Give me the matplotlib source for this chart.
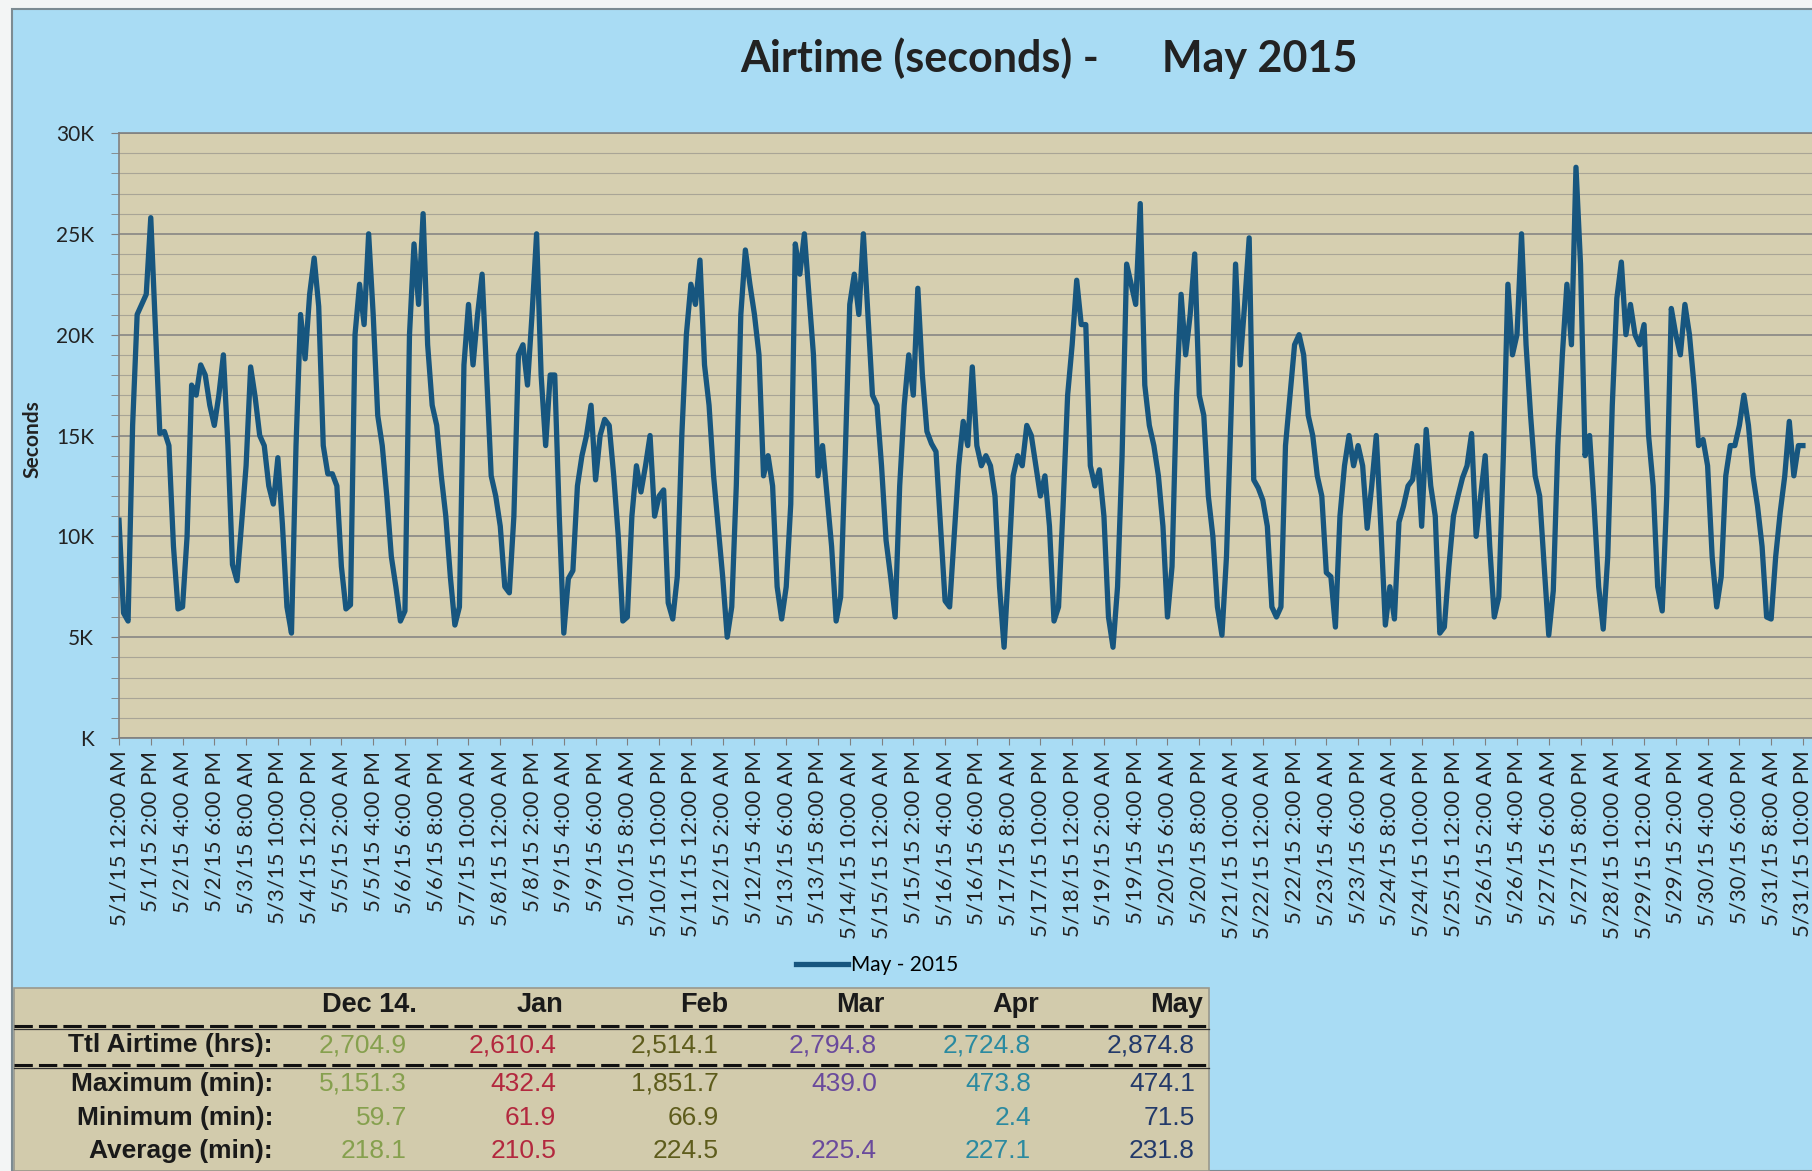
import numpy as np
import pandas as pd
import matplotlib
matplotlib.use("Agg")
import matplotlib.pyplot as plt
from matplotlib.lines import Line2D
from matplotlib.patches import Rectangle
from matplotlib.ticker import MultipleLocator

plt.rcParams['font.family'] = ['Lato', 'DejaVu Sans']

# ===== data: airtime every 2 hours (thousand seconds), one row per day 00:00..22:00 =====
airtime_k = [
    10.8, 6.2, 5.8, 15.5, 21.0, 21.5, 22.0, 25.8, 20.4, 15.1, 15.2, 14.5,   # 5/1
    9.5, 6.4, 6.5, 10.0, 17.5, 17.0, 18.5, 18.0, 16.5, 15.5, 17.0, 19.0,    # 5/2
    14.5, 8.6, 7.8, 10.6, 13.5, 18.4, 16.9, 15.0, 14.5, 12.5, 11.6, 13.9,   # 5/3
    10.6, 6.5, 5.2, 14.5, 21.0, 18.8, 22.0, 23.8, 21.4, 14.5, 13.1, 13.1,   # 5/4
    12.5, 8.5, 6.4, 6.6, 20.0, 22.5, 20.5, 25.0, 21.0, 16.0, 14.5, 12.0,    # 5/5
    9.0, 7.5, 5.8, 6.3, 20.0, 24.5, 21.5, 26.0, 19.5, 16.5, 15.5, 13.0,     # 5/6
    11.0, 8.0, 5.6, 6.5, 18.5, 21.5, 18.5, 21.0, 23.0, 18.0, 13.0, 12.0,    # 5/7
    10.5, 7.5, 7.2, 11.0, 19.0, 19.5, 17.5, 21.0, 25.0, 18.0, 14.5, 18.0,   # 5/8
    18.0, 11.0, 5.2, 7.9, 8.3, 12.5, 14.0, 15.0, 16.5, 12.8, 15.0, 15.8,    # 5/9
    15.5, 13.0, 10.0, 5.8, 6.0, 11.0, 13.5, 12.2, 13.5, 15.0, 11.0, 12.0,   # 5/10
    12.3, 6.7, 5.9, 8.0, 15.0, 20.0, 22.5, 21.5, 23.7, 18.5, 16.5, 13.0,    # 5/11
    10.5, 8.0, 5.0, 6.5, 12.5, 21.0, 24.2, 22.5, 21.0, 19.0, 13.0, 14.0,    # 5/12
    12.5, 7.5, 5.9, 7.5, 11.6, 24.5, 23.0, 25.0, 22.0, 19.0, 13.0, 14.5,    # 5/13
    12.0, 9.5, 5.8, 7.0, 14.0, 21.5, 23.0, 21.0, 25.0, 21.0, 17.0, 16.5,    # 5/14
    13.5, 9.8, 8.0, 6.0, 12.5, 16.5, 19.0, 17.0, 22.3, 18.0, 15.2, 14.6,    # 5/15
    14.2, 10.5, 6.8, 6.5, 10.0, 13.5, 15.7, 14.5, 18.4, 14.5, 13.5, 14.0,   # 5/16
    13.5, 12.0, 7.5, 4.5, 8.5, 13.0, 14.0, 13.5, 15.5, 15.0, 13.5, 12.0,    # 5/17
    13.0, 10.5, 5.8, 6.5, 11.5, 17.0, 19.5, 22.7, 20.5, 20.5, 13.5, 12.5,   # 5/18
    13.3, 11.0, 6.0, 4.5, 7.5, 14.0, 23.5, 22.5, 21.5, 26.5, 17.5, 15.5,    # 5/19
    14.5, 13.0, 10.5, 6.0, 8.5, 17.0, 22.0, 19.0, 21.0, 24.0, 17.0, 16.0,   # 5/20
    12.0, 10.0, 6.5, 5.1, 9.0, 16.0, 23.5, 18.5, 21.5, 24.8, 12.8, 12.4,    # 5/21
    11.8, 10.5, 6.5, 6.0, 6.5, 14.5, 17.0, 19.5, 20.0, 19.0, 16.0, 15.0,    # 5/22
    13.0, 12.0, 8.2, 8.0, 5.5, 11.0, 13.5, 15.0, 13.5, 14.5, 13.5, 10.4,    # 5/23
    12.5, 15.0, 10.5, 5.6, 7.5, 5.9, 10.7, 11.5, 12.5, 12.8, 14.5, 10.5,    # 5/24
    15.3, 12.5, 11.0, 5.2, 5.5, 8.5, 11.0, 12.0, 12.9, 13.5, 15.1, 10.0,    # 5/25
    12.0, 14.0, 9.5, 6.0, 7.0, 14.0, 22.5, 19.0, 20.0, 25.0, 19.5, 16.0,    # 5/26
    13.0, 12.0, 8.5, 5.1, 7.3, 14.5, 19.0, 22.5, 19.5, 28.3, 23.5, 14.0,    # 5/27
    15.0, 11.5, 7.5, 5.4, 9.0, 16.5, 21.8, 23.6, 20.0, 21.5, 20.0, 19.5,    # 5/28
    20.5, 15.0, 12.5, 7.5, 6.3, 12.0, 21.3, 20.0, 19.0, 21.5, 20.0, 17.5,   # 5/29
    14.5, 14.8, 13.5, 9.0, 6.5, 8.0, 13.0, 14.5, 14.5, 15.5, 17.0, 15.5,    # 5/30
    13.0, 11.5, 9.5, 6.0, 5.9, 9.0, 11.2, 13.0, 15.7, 13.0, 14.5, 14.5,     # 5/31
]
step_hours = 2
tick_every_hours = 14
y_ticks = [0, 5000, 10000, 15000, 20000, 25000, 30000]
y_tick_labels = ['K', '5K', '10K', '15K', '20K', '25K', '30K']

# summary table below the chart
table_months = ['Dec 14.', 'Jan', 'Feb', 'Mar', 'Apr', 'May']
table_colors = ['#86a04e', '#b3283e', '#5e5c1c', '#6a4a9c', '#2b8aa0', '#233a6a']
row_names = ['Ttl Airtime (hrs):', 'Maximum (min):', 'Minimum (min):', 'Average (min):']
total_hrs = [2704.9, 2610.4, 2514.1, 2794.8, 2724.8, 2874.8]
max_min = [5151.3, 432.4, 1851.7, 439.0, 473.8, 474.1]
min_min = [59.7, 61.9, 66.9, None, 2.4, 71.5]
avg_min = [218.1, 210.5, 224.5, 225.4, 227.1, 231.8]

W, H = 1812, 1171
def fx(x):
    return x / W
def fy(y):
    return 1 - y / H

def hour_label(h):
    t = pd.Timestamp('2015-05-01') + pd.Timedelta(hours=int(h))
    h12 = t.hour % 12 or 12
    ampm = 'AM' if t.hour < 12 else 'PM'
    return f"{t.month}/{t.day}/{t.strftime('%y')} {h12}:{t.minute:02d} {ampm}"

seconds = np.array(airtime_k) * 1000
hours = np.arange(len(seconds)) * step_hours

fig = plt.figure(figsize=(W / 100, H / 100), dpi=100, facecolor='#f3f5f5')
fig.patches.append(Rectangle((fx(12), 0), 1.0, fy(9), transform=fig.transFigure,
                             facecolor='#a9dcf4', edgecolor='#7c8b92', lw=1.5, zorder=-5))

ax = fig.add_axes([fx(119), fy(738), fx(W - 119), fy(133) - fy(738)])
ax.set_zorder(1)
ax.set_facecolor('#d6cfb0')
ax.plot(hours, seconds, color='#17567f', lw=3.8, solid_joinstyle='round', zorder=3)

ax.set_xlim(0, 746)
ax.set_ylim(0, 30000)
ax.set_yticks(y_ticks)
ax.set_yticklabels(y_tick_labels, fontsize=15, color='#222222')
ax.yaxis.set_minor_locator(MultipleLocator(1000))
ax.grid(which='major', axis='y', color='#808080', lw=1.1)
ax.grid(which='minor', axis='y', color='#a9a596', lw=0.8)
ax.set_axisbelow(True)

xt = np.arange(0, hours[-1] + 1, tick_every_hours)
ax.set_xticks(xt)
ax.set_xticklabels([hour_label(h) for h in xt], rotation=90, fontsize=16, color='#222222')
ax.tick_params(axis='x', length=5, color='#808080', pad=4)
ax.tick_params(axis='y', which='both', length=6, color='#808080', pad=12)
for s in ['left', 'bottom', 'top']:
    ax.spines[s].set_color('#808080')
    ax.spines[s].set_linewidth(1.2)
ax.spines['right'].set_visible(False)

fig.text(fx(32), fy(439), 'Seconds', rotation=90, fontsize=15, fontweight='bold',
         ha='center', va='center', color='#222222')
fig.text(fx(1049), fy(58), 'Airtime (seconds) -      May 2015', fontsize=31,
         fontweight='bold', ha='center', va='center', color='#222222')

leg = fig.legend(handles=[Line2D([], [], color='#17567f', lw=3.8)], labels=['May - 2015'],
                 loc='center', bbox_to_anchor=(fx(877), fy(965)), frameon=False,
                 fontsize=15, handlelength=2.5, handletextpad=0.15)

# ===== table =====
fig.patches.append(Rectangle((fx(14), 0), fx(1209 - 14), fy(988), transform=fig.transFigure,
                             facecolor='#d2cbac', edgecolor='#9a988c', lw=1.2, zorder=1))
arial = ['Liberation Sans', 'DejaVu Sans']
head_right = [417, 563, 728, 885, 1039, 1203]
val_right = [407, 556, 719, 877, 1031, 1195]
row_y = [1045, 1084, 1118, 1151]
for m, xr in zip(table_months, head_right):
    fig.text(fx(xr), fy(1005), m, family=arial, fontsize=19.5, fontweight='bold',
             ha='right', va='center', color='#1a1a1a', zorder=2)
for name, y in zip(row_names, row_y):
    fig.text(fx(273), fy(y), name, family=arial, fontsize=19, fontweight='bold',
             ha='right', va='center', color='#1a1a1a', zorder=2)
for vals, y in zip([total_hrs, max_min, min_min, avg_min], row_y):
    for v, xr, c in zip(vals, val_right, table_colors):
        if v is None:
            continue
        fig.text(fx(xr), fy(y), f"{v:,.1f}", family=arial, fontsize=19,
                 ha='right', va='center', color=c, zorder=2)
for y in [1026, 1065]:
    fig.add_artist(Line2D([fx(14), fx(1209)], [fy(y), fy(y)], color='#111111', lw=2.2,
                          dashes=(6, 2), transform=fig.transFigure, zorder=2))
    fig.add_artist(Line2D([fx(14), fx(1209)], [fy(y + 3), fy(y + 3)], color='#333333', lw=0.9,
                          transform=fig.transFigure, zorder=2))

fig.savefig('out.png', dpi=100, facecolor=fig.get_facecolor())
